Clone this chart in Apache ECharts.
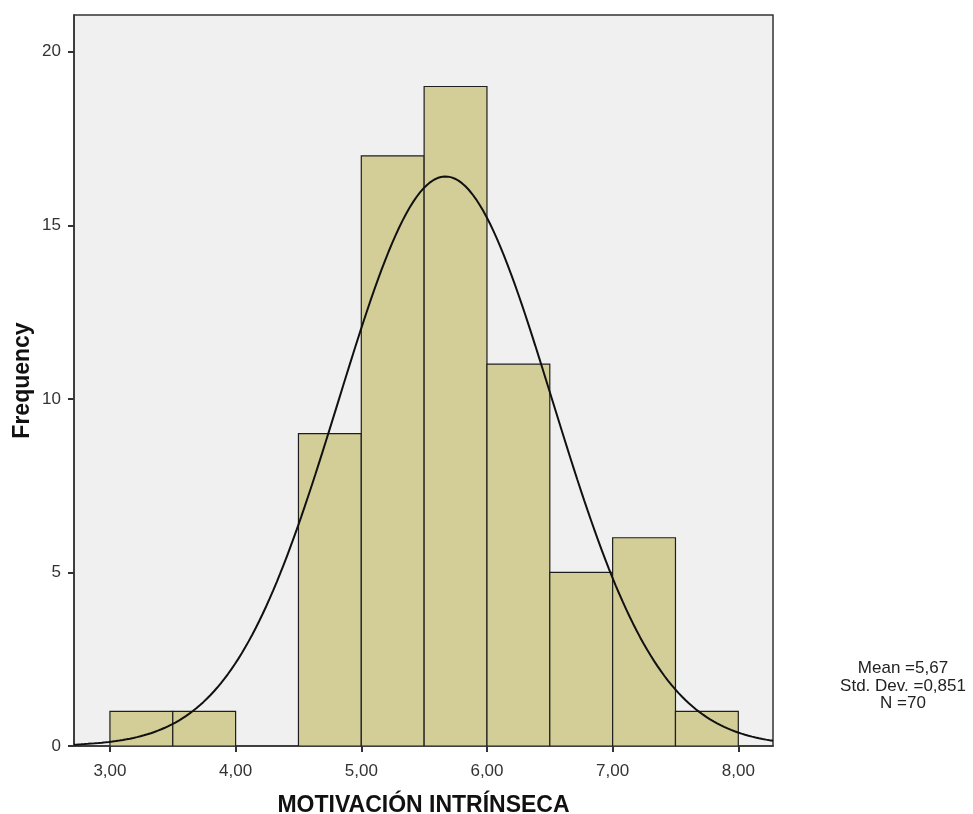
<!DOCTYPE html>
<html>
<head>
<meta charset="utf-8">
<script src="https://cdn.jsdelivr.net/npm/echarts@6/dist/echarts.min.js"></script>
<style>
  html, body { margin: 0; padding: 0; background: #ffffff; }
  #chart { width: 973px; height: 814px; }
</style>
</head>
<body>
<div id="chart"></div>
<script>
// Histogram bins of MOTIVACIÓN INTRÍNSECA (lower edge, upper edge)
const binStart = [3.0, 3.5, 4.0, 4.5, 5.0, 5.5, 6.0, 6.5, 7.0, 7.5];
const binEnd   = [3.5, 4.0, 4.5, 5.0, 5.5, 6.0, 6.5, 7.0, 7.5, 8.0];
const binCount = [1, 1, 0, 9, 17, 19, 11, 5, 6, 1];

// Summary statistics shown beside the plot
const statMean = 5.67;
const statStdDev = 0.851;
const statN = 70;

// Axis tick values
const xTicks = [3, 4, 5, 6, 7, 8];
const yTicks = [0, 5, 10, 15, 20];
const xMin = 2.714, xMax = 8.276;
const yMin = 0, yMax = 21.06;

const fmtComma = (v, d) => v.toFixed(d).replace('.', ',');

const barData = binStart.map((s, i) => [s, binEnd[i], binCount[i]]).filter(d => d[2] > 0);

// Normal curve scaled to the histogram (N * bin width * density)
const binWidth = 0.5;
const curve = [];
const steps = 200;
for (let i = 0; i <= steps; i++) {
  const x = xMin + (xMax - xMin) * i / steps;
  const z = (x - statMean) / statStdDev;
  const y = statN * binWidth * Math.exp(-0.5 * z * z) / (statStdDev * Math.sqrt(2 * Math.PI));
  curve.push([x, y]);
}

const chart = echarts.init(document.getElementById('chart'), null, { renderer: 'canvas' });
const font = 'Liberation Sans, Arial, sans-serif';

chart.setOption({
  animation: false,
  backgroundColor: '#ffffff',
  grid: {
    left: 74, top: 15, right: 200, bottom: 68,
    outerBoundsMode: 'none',
    containLabel: false,
    show: true,
    backgroundColor: '#f0f0f0',
    borderColor: '#333333',
    borderWidth: 1.5
  },
  xAxis: {
    type: 'value',
    min: xMin, max: xMax,
    name: 'MOTIVACIÓN INTRÍNSECA',
    nameLocation: 'middle',
    nameGap: 48,
    nameMoveOverlap: false,
    nameTextStyle: { fontFamily: font, fontSize: 23, fontWeight: 'bold', color: '#111' },
    splitLine: { show: false },
    axisLine: { show: true, lineStyle: { color: '#333', width: 1.5 } },
    axisTick: { show: true, length: 6, lineStyle: { color: '#333', width: 2 }, customValues: xTicks },
    axisLabel: {
      fontFamily: font, fontSize: 17, color: '#333', margin: 17,
      customValues: xTicks,
      formatter: v => fmtComma(v, 2)
    }
  },
  yAxis: {
    type: 'value',
    min: yMin, max: yMax,
    name: 'Frequency',
    nameLocation: 'middle',
    nameGap: 40,
    nameMoveOverlap: false,
    nameTextStyle: { fontFamily: font, fontSize: 23, fontWeight: 'bold', color: '#111' },
    splitLine: { show: false },
    axisLine: { show: true, lineStyle: { color: '#333', width: 1.5 } },
    axisTick: { show: true, length: 6, lineStyle: { color: '#333', width: 2 }, customValues: yTicks },
    axisLabel: {
      fontFamily: font, fontSize: 17, color: '#333', margin: 13,
      customValues: yTicks,
      formatter: v => String(v)
    }
  },
  series: [
    {
      type: 'custom',
      clip: true,
      data: barData,
      encode: { x: [0, 1], y: 2 },
      renderItem: function (params, api) {
        const p0 = api.coord([api.value(0), api.value(2)]);
        const p1 = api.coord([api.value(1), 0]);
        return {
          type: 'rect',
          shape: { x: p0[0], y: p0[1], width: p1[0] - p0[0], height: p1[1] - p0[1] },
          style: { fill: '#d3ce98', stroke: '#1e1e1e', lineWidth: 1.2 }
        };
      }
    },
    {
      type: 'line',
      data: curve,
      showSymbol: false,
      smooth: false,
      clip: true,
      lineStyle: { color: '#111', width: 2 },
      z: 5
    }
  ],
  graphic: [
    {
      type: 'text',
      x: 903, y: 660,
      style: {
        text: 'Mean =' + fmtComma(statMean, 2) + '\nStd. Dev. =' + fmtComma(statStdDev, 3) + '\nN =' + statN,
        fontFamily: font, fontSize: 17, lineHeight: 17.5, fill: '#222',
        align: 'center', verticalAlign: 'top'
      }
    }
  ]
});
</script>
</body>
</html>
